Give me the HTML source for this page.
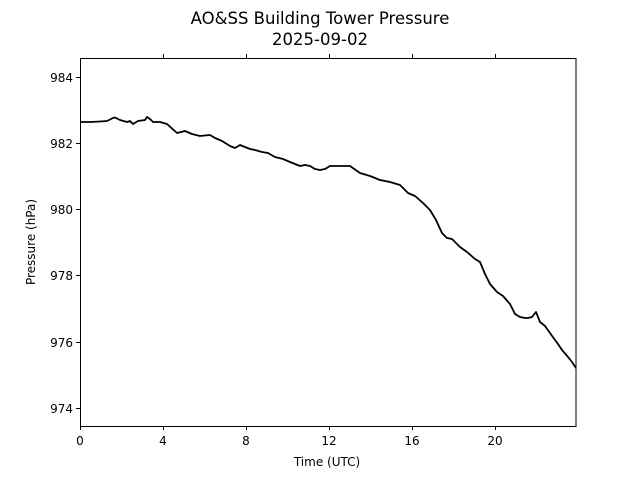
<!DOCTYPE html>
<html><head><style>body{margin:0;background:#fff}svg{display:block}text{font-family:"DejaVu Sans","Liberation Sans",sans-serif;fill:#000}</style></head><body>
<svg width="640" height="480" xmlns="http://www.w3.org/2000/svg">
<text x="320" y="24" font-size="16.5" text-anchor="middle">AO&amp;SS Building Tower Pressure</text>
<text x="320" y="45" font-size="16.5" text-anchor="middle">2025-09-02</text>
<polyline fill="none" stroke="#000" stroke-width="1.8" stroke-linejoin="round" points="80,122 90,122 100,121.5 107,121 113,118 115,117.5 120,120 127,122 130,121 133,124 138,121 145,120 147,117 150,119 153,122 160,122 167,124 177,133 185,131 192,134 200,136 210,135 215,138 222,141 230,146 235,148 240,145 245,147 250,149 255,150 262,152 268,153 275,157 283,159 290,162 295,164 300,166 305,165 310,166 315,169 320,170 325,169 330,166 333,166 337,166 345,166 350,166 360,173 370,176 380,180 390,182 400,185 408,193 415,196 423,203 430,210 436,220 442,233 447,238 452,239 460,247 467,252 475,259 480,262 485,274 490,284 497,292 503,296 510,304 515,314 520,317 525,318 528,318 532,317 536,312 540,322 545,326 550,333 555,340 558,344 562,350 568,357 572,362 576,368"/>
<rect x="80.5" y="58.5" width="495.5" height="368" fill="none" stroke="#000" stroke-width="1"/>
<g stroke="#000" stroke-width="1">
<line x1="80.5" y1="426" x2="80.5" y2="430"/><line x1="163.5" y1="426" x2="163.5" y2="430"/><line x1="246.5" y1="426" x2="246.5" y2="430"/><line x1="329.5" y1="426" x2="329.5" y2="430"/><line x1="412.5" y1="426" x2="412.5" y2="430"/><line x1="495.5" y1="426" x2="495.5" y2="430"/>
<line x1="163.5" y1="58" x2="163.5" y2="54"/><line x1="246.5" y1="58" x2="246.5" y2="54"/><line x1="329.5" y1="58" x2="329.5" y2="54"/><line x1="412.5" y1="58" x2="412.5" y2="54"/><line x1="495.5" y1="58" x2="495.5" y2="54"/>
<line x1="76" y1="77.5" x2="80" y2="77.5"/><line x1="76" y1="143.5" x2="80" y2="143.5"/><line x1="76" y1="209.5" x2="80" y2="209.5"/><line x1="76" y1="275.5" x2="80" y2="275.5"/><line x1="76" y1="342.5" x2="80" y2="342.5"/><line x1="76" y1="408.5" x2="80" y2="408.5"/>
</g>
<g font-size="12" text-anchor="middle">
<text x="80" y="445">0</text><text x="163" y="445">4</text><text x="246" y="445">8</text><text x="329" y="445">12</text><text x="412" y="445">16</text><text x="495" y="445">20</text>
<text x="327" y="466">Time (UTC)</text>
</g>
<g font-size="12" text-anchor="end">
<text x="73" y="82">984</text><text x="73" y="148">982</text><text x="73" y="214">980</text><text x="73" y="280">978</text><text x="73" y="347">976</text><text x="73" y="413">974</text>
</g>
<text transform="translate(35,242) rotate(-90)" font-size="12" text-anchor="middle">Pressure (hPa)</text>
</svg>
</body></html>
